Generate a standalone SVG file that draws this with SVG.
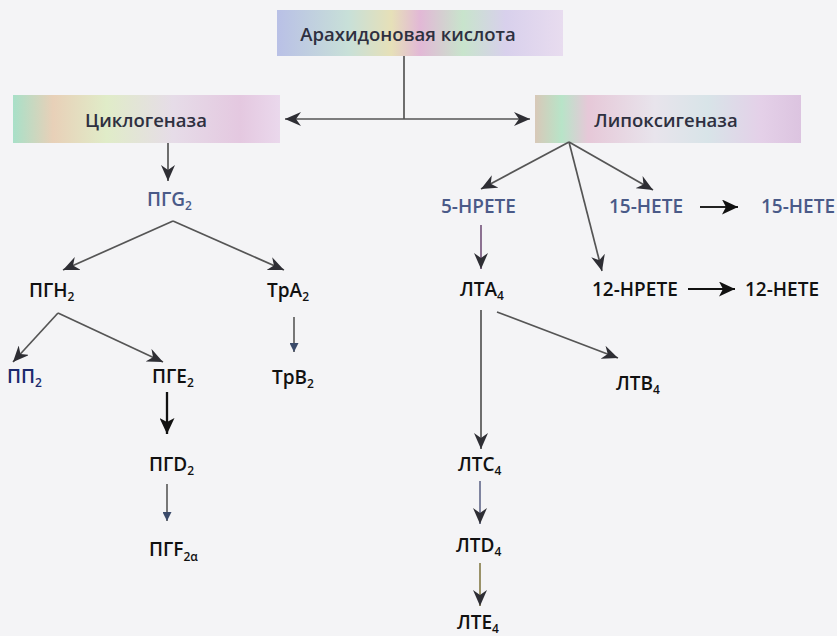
<svg xmlns="http://www.w3.org/2000/svg" width="837" height="636" viewBox="0 0 837 636">
<defs>
<linearGradient id="gTop" x1="0" y1="0" x2="1" y2="0">
<stop offset="0" stop-color="#b9c0e6"/>
<stop offset="0.25" stop-color="#c8e0d8"/>
<stop offset="0.4" stop-color="#e6e0b8"/>
<stop offset="0.5" stop-color="#e2b8d6"/>
<stop offset="0.65" stop-color="#c8e4cc"/>
<stop offset="0.8" stop-color="#d8d0ec"/>
<stop offset="1" stop-color="#e8dcef"/>
</linearGradient>
<linearGradient id="gCyc" x1="0" y1="0" x2="1" y2="0">
<stop offset="0" stop-color="#a8e0c8"/>
<stop offset="0.15" stop-color="#e8d0b8"/>
<stop offset="0.35" stop-color="#e0ecc8"/>
<stop offset="0.6" stop-color="#e6dce8"/>
<stop offset="0.85" stop-color="#e4c8e0"/>
<stop offset="1" stop-color="#ead8ec"/>
</linearGradient>
<linearGradient id="gLip" x1="0" y1="0" x2="1" y2="0">
<stop offset="0" stop-color="#d8c8b8"/>
<stop offset="0.1" stop-color="#b8e4c8"/>
<stop offset="0.2" stop-color="#e6c8d8"/>
<stop offset="0.45" stop-color="#e8e4ec"/>
<stop offset="0.65" stop-color="#d8e4e8"/>
<stop offset="0.85" stop-color="#e4d0e8"/>
<stop offset="1" stop-color="#dcc4e0"/>
</linearGradient>
<marker id="ah" markerWidth="17" markerHeight="14" refX="16" refY="7" orient="auto" markerUnits="userSpaceOnUse">
<path d="M0,0 L16,7 L0,14 L5,7 Z" fill="#2e2e34"/>
</marker>
<marker id="ahs" markerWidth="10" markerHeight="9" refX="9" refY="4.5" orient="auto" markerUnits="userSpaceOnUse">
<path d="M0,0 L9,4.5 L0,9 Z" fill="#3a4a6a"/>
</marker>
<marker id="ahb" markerWidth="17" markerHeight="15" refX="16" refY="7.5" orient="auto" markerUnits="userSpaceOnUse">
<path d="M0,0 L16,7.5 L0,15 L4,7.5 Z" fill="#111"/>
</marker>
</defs>
<style>
.box text{font-family:"Open Sans","Liberation Sans",sans-serif;font-size:18.5px;font-weight:600;fill:#2e3040;text-anchor:middle}
.lbl{font-family:"Open Sans","Liberation Sans",sans-serif;font-size:19px;font-weight:600;fill:#111}
.blue{fill:#4a5a88}
.navy{fill:#1c2a6e}
.sub{font-size:12px}
.c line{stroke:#555;stroke-width:1.7;fill:none}
</style>
<rect width="837" height="636" fill="#f4f4f6"/>

<g id="arachidonic" class="box">
<rect x="277" y="10" width="286" height="46" fill="url(#gTop)"/>
<text x="408" y="41">Арахидоновая кислота</text>
</g>
<g id="cyclooxygenase" class="box">
<rect x="13" y="95" width="267" height="48" fill="url(#gCyc)"/>
<text x="146" y="127">Циклогеназа</text>
</g>
<g id="lipoxygenase" class="box">
<rect x="535" y="95" width="266" height="48" fill="url(#gLip)"/>
<text x="666" y="127">Липоксигеназа</text>
</g>

<g id="PGG2"><text class="lbl blue" x="147" y="206">ПГG<tspan class="sub" dy="4">2</tspan></text></g>
<g id="PGH2"><text class="lbl" x="29" y="297">ПГН<tspan class="sub" dy="4">2</tspan></text></g>
<g id="TxA2"><text class="lbl" x="267" y="297">ТрА<tspan class="sub" dy="4">2</tspan></text></g>
<g id="TxB2"><text class="lbl" x="272" y="384">ТрВ<tspan class="sub" dy="4">2</tspan></text></g>
<g id="PP2"><text class="lbl navy" x="7" y="383">ПП<tspan class="sub" dy="4">2</tspan></text></g>
<g id="PGE2"><text class="lbl" x="152" y="383">ПГЕ<tspan class="sub" dy="4">2</tspan></text></g>
<g id="PGD2"><text class="lbl" x="149" y="471">ПГD<tspan class="sub" dy="4">2</tspan></text></g>
<g id="PGF2a"><text class="lbl" x="149" y="556">ПГF<tspan class="sub" dy="5">2α</tspan></text></g>

<g id="HPETE5"><text class="lbl blue" x="441" y="213">5-HPETE</text></g>
<g id="HETE15a"><text class="lbl blue" x="609" y="213">15-HETE</text></g>
<g id="HETE15b"><text class="lbl blue" x="761" y="213">15-HETE</text></g>
<g id="LTA4"><text class="lbl" x="460" y="296">ЛТА<tspan class="sub" dy="4">4</tspan></text></g>
<g id="HPETE12"><text class="lbl" x="592" y="296">12-HPETE</text></g>
<g id="HETE12"><text class="lbl" x="745" y="296">12-HETE</text></g>
<g id="LTB4"><text class="lbl" x="616" y="390">ЛТВ<tspan class="sub" dy="4">4</tspan></text></g>
<g id="LTC4"><text class="lbl" x="458" y="471">ЛТС<tspan class="sub" dy="4">4</tspan></text></g>
<g id="LTD4"><text class="lbl" x="456" y="552">ЛТD<tspan class="sub" dy="4">4</tspan></text></g>
<g id="LTE4"><text class="lbl" x="457" y="629">ЛТЕ<tspan class="sub" dy="4">4</tspan></text></g>

<g id="connectors" class="c">
<line x1="404" y1="56" x2="404" y2="119"/>
<line x1="404" y1="119" x2="285" y2="119" marker-end="url(#ah)"/>
<line x1="404" y1="119" x2="530" y2="119" marker-end="url(#ah)"/>
<line x1="168" y1="143" x2="168" y2="181" marker-end="url(#ah)"/>
<line x1="173" y1="221" x2="63" y2="270" marker-end="url(#ah)"/>
<line x1="173" y1="221" x2="284" y2="270" marker-end="url(#ah)"/>
<line x1="294" y1="317" x2="294" y2="352" style="stroke-width:1.2;stroke:#222" marker-end="url(#ahs)"/>
<line x1="58" y1="313" x2="13" y2="362" marker-end="url(#ah)"/>
<line x1="58" y1="313" x2="163" y2="362" marker-end="url(#ah)"/>
<line x1="167" y1="392" x2="167" y2="434" style="stroke:#111;stroke-width:2.3" marker-end="url(#ahb)"/>
<line x1="167" y1="484" x2="167" y2="521" style="stroke-width:1.2;stroke:#222" marker-end="url(#ahs)"/>
<line x1="569" y1="142" x2="481" y2="189" marker-end="url(#ah)"/>
<line x1="569" y1="142" x2="602" y2="271" marker-end="url(#ah)"/>
<line x1="569" y1="142" x2="653" y2="190" marker-end="url(#ah)"/>
<line x1="700" y1="207" x2="738" y2="207" style="stroke:#222;stroke-width:2" marker-end="url(#ahb)"/>
<line x1="481" y1="225" x2="481" y2="269" style="stroke:#7a5a80" marker-end="url(#ah)"/>
<line x1="688" y1="289" x2="735" y2="289" style="stroke:#111;stroke-width:2" marker-end="url(#ahb)"/>
<line x1="481" y1="310" x2="481" y2="449" marker-end="url(#ah)"/>
<line x1="497" y1="312" x2="618" y2="358" marker-end="url(#ah)"/>
<line x1="480" y1="481" x2="480" y2="524" style="stroke:#6a7090" marker-end="url(#ah)"/>
<line x1="480" y1="563" x2="480" y2="606" style="stroke:#8a8050" marker-end="url(#ah)"/>
</g>
</svg>
